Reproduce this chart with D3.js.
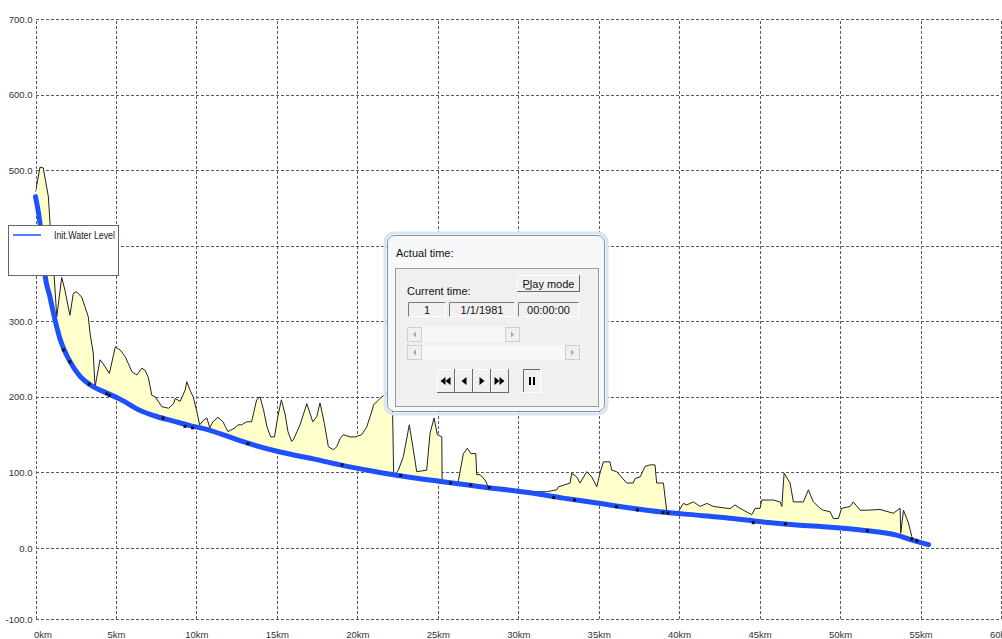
<!DOCTYPE html>
<html>
  <body style="margin:0;background:#fff;">
    <style>
      svg { display: block; font-family: 'Liberation Sans', Arial, sans-serif; }
      .grid line { stroke: #5a5a5a; stroke-dasharray: 3,2; shape-rendering: crispEdges; }
      .grid text { fill: #333; font-size: 9.5px; }
      .ui text { font-size: 11px; fill: #111; }
    </style>
    <script src="https://cdn.jsdelivr.net/npm/d3@7"></script>
    <script type="text/javascript">
      const width = 1002;
      const height = 639;
      const xTicks = [0, 5, 10, 15, 20, 25, 30, 35, 40, 45, 50, 55, 60];
      const yTicks = [-100, 0, 100, 200, 300, 400, 500, 600, 700];

      const waterKm = [0, 0.28, 0.59, 0.9, 1.21, 1.52, 1.83, 2.14, 2.77, 3.39, 4.43, 5.25, 6.5, 7.53, 8.56, 9.6, 10.64, 11.5, 13.15,
        15.2, 17.25, 19.36, 21.4, 23.46, 25.2, 27, 28.25, 29.5, 30.73, 32.8, 34.9, 36.95, 39, 41.1, 43.16, 45.2, 47.3, 49.4, 51.4, 53.5, 54.5, 55.5];
      const waterLevel = [465, 430, 361, 332, 302, 277, 260, 247, 227, 216, 205, 197, 182, 174, 168, 162, 157, 151, 139,
        127, 118, 108, 100, 93, 88, 83, 79.5, 76.5, 73, 66, 59.5, 53, 47.5, 43.5, 39.5, 34.5, 30.5, 27.5, 23.5, 17, 10.5, 4.5];

      const bankKm = [0, 0.17, 0.28, 0.48, 0.8, 0.9, 1.1, 1.32, 1.63, 1.83, 2.14, 2.35, 2.56, 2.87, 3.08, 3.28, 3.39, 3.59, 3.7,
        4.01, 4.2, 4.59, 4.96, 5.27, 5.58, 6.0, 6.3, 6.61, 6.82, 7.02, 7.23, 7.44, 7.85, 8.06, 8.27, 8.58, 8.68, 8.99, 9.3, 9.4, 9.6, 9.8, 10.0,
        10.2, 10.44, 10.65, 10.83, 11.03, 11.34, 11.65, 11.96, 12.4, 12.58, 12.81, 13.12, 13.43, 13.74, 13.95, 14.17, 14.39, 14.62, 14.85, 15.06,
        15.28, 15.52, 15.69, 15.92, 16.02, 16.25, 16.44, 16.86, 17.23, 17.48, 17.68, 17.95, 18.2, 18.51, 18.72, 18.93, 19.13, 19.54, 19.86, 20.27,
        20.58, 20.96, 21.0, 21.41, 21.83, 22.17, 22.26, 22.55, 22.86, 23.23, 23.48, 23.69, 24.31, 24.52, 24.77, 24.97, 25.25, 25.27, 26.2,
        26.59, 26.84, 27.05, 27.36, 27.42, 27.63, 27.94, 28.14, 30.73, 31.77, 32.39, 32.5, 32.8, 33.22, 33.32, 33.64, 33.84, 34.26, 34.57,
        34.88, 35.08, 35.29, 35.7, 35.81, 36.12, 36.74, 37.15, 37.26, 37.57, 37.88, 38.19, 38.5, 38.6, 39.02, 39.23, 39.95, 40.26, 40.47,
        40.88, 41.3, 41.72, 42.13, 43.16, 43.47, 43.78, 44.51, 44.72, 45.03, 45.13, 45.85, 46.27, 46.38, 46.52, 46.89, 47.1, 47.72, 48.03,
        48.34, 48.76, 48.96, 49.38, 49.58, 49.89, 50.1, 50.62, 50.82, 51.24, 51.66, 52.48, 53.31, 53.73, 53.77, 53.94, 54.25, 54.46, 54.6];
      const bankLevel = [471, 491, 504, 503, 465, 430, 380, 306, 358, 341, 308, 337, 339, 332, 319, 306, 284, 258, 213,
        249, 244, 231, 266, 262, 253, 233, 229, 238, 235, 225, 202, 200, 187, 186, 185, 191, 198, 194, 209, 220, 209, 200, 183,
        163, 169, 172, 159, 167, 173, 167, 154, 159, 163, 163, 167, 167, 196, 200, 183, 160, 147, 147, 174,
        196, 176, 154, 141, 143, 154, 163, 191, 167, 174, 192, 165, 134, 130, 134, 145, 150, 147, 147, 150,
        160, 185, 189, 198, 205, 206, 95, 103, 121, 163, 130, 101, 103, 152, 172, 150, 147, 85, 80,
        125, 132, 125, 125, 97, 97, 90, 81, 74.5, 74.5, 77, 81, 83, 86, 99, 94, 86, 101, 94,
        81, 99, 114, 114, 103, 101, 86, 86, 92, 94, 108, 110, 110, 86, 86, 48, 48, 59, 57,
        61, 55, 59, 55, 52, 57, 52.5, 44, 52.5, 52.5, 63.5, 63.5, 61, 55, 99, 86, 61, 61, 77,
        61, 52.5, 50, 48, 39, 39, 52.5, 55, 61, 50, 50, 51, 46, 52.5, 19.5, 50, 33, 15, 9];

      const pointKm = [1.73, 2.14, 3.34, 4.43, 4.59, 7.92, 9.29, 9.76, 13.2, 19.05, 22.7, 25.8, 27.05, 28.2, 32.2, 33.5, 36.1, 37.4,
        39.0, 39.3, 44.6, 46.6, 51.7, 54.45, 54.77];
      const pointLevel = [262, 246.5, 217, 204, 202, 172, 161, 159, 138, 110, 96, 86, 83.4, 80, 66.6, 63.5, 54.6, 50.3,
        46.7, 46.3, 33.5, 31.8, 22.9, 11.9, 9.7];

      const water = waterKm.map((k, i) => ({ km: k, v: waterLevel[i] }));
      const bank = bankKm.map((k, i) => ({ km: k, v: bankLevel[i] }));
      const points = pointKm.map((k, i) => ({ km: k, v: pointLevel[i] }));

      const scaleX = d3.scaleLinear().domain([0, 60]).range([35.5, 1001]);
      const scaleY = d3.scaleLinear().domain([-100, 0, 700]).range([619, 548, 19]);

      const svg = d3.select('body').append('svg')
        .attr('width', width)
        .attr('height', height);

      const axisLeft = d3.axisLeft(scaleY)
        .tickValues(yTicks)
        .tickSize(-(scaleX(60) - scaleX(0)))
        .tickPadding(3)
        .tickFormat((d) => d.toFixed(1));
      svg.append('g')
        .attr('class', 'grid')
        .attr('transform', `translate(${scaleX(0)}, 0)`)
        .call(axisLeft)
        .call((g) => g.select('.domain').remove());

      const axisBottom = d3.axisBottom(scaleX)
        .tickValues(xTicks)
        .tickSize(-(scaleY(-100) - scaleY(700)))
        .tickPadding(12)
        .tickFormat((d) => d + 'km');
      svg.append('g')
        .attr('class', 'grid')
        .attr('transform', `translate(0, ${scaleY(-100)})`)
        .call(axisBottom)
        .call((g) => g.select('.domain').remove())
        .call((g) => g.selectAll('.tick text').filter((d) => d === 0).attr('text-anchor', 'start').attr('x', -2));

      const aboveWater = d3.area()
        .x((d) => scaleX(d.km))
        .y0(0)
        .y1((d) => scaleY(d.v))
        .curve(d3.curveMonotoneX);
      svg.append('clipPath')
        .attr('id', 'above')
        .append('path')
        .attr('d', aboveWater(water));

      const bankArea = d3.area()
        .x((d) => scaleX(d.km))
        .y0(scaleY(-100))
        .y1((d) => scaleY(d.v));
      const bankLine = d3.line()
        .x((d) => scaleX(d.km))
        .y((d) => scaleY(d.v));
      const bankG = svg.append('g').attr('clip-path', 'url(#above)');
      bankG.append('path')
        .attr('d', bankArea(bank))
        .attr('fill', '#ffffcc');
      bankG.append('path')
        .attr('d', bankLine(bank))
        .attr('fill', 'none')
        .attr('stroke', '#222')
        .attr('stroke-width', 1);

      const waterLine = d3.line()
        .x((d) => scaleX(d.km))
        .y((d) => scaleY(d.v))
        .curve(d3.curveMonotoneX);
      svg.append('path')
        .attr('d', waterLine(water))
        .attr('fill', 'none')
        .attr('stroke', '#1e50ff')
        .attr('stroke-width', 5)
        .attr('stroke-linecap', 'round');

      svg.selectAll('rect.pt')
        .data(points)
        .enter()
        .append('rect')
        .attr('class', 'pt')
        .attr('x', (d) => scaleX(d.km) - 1.5)
        .attr('y', (d) => scaleY(d.v) - 1.5)
        .attr('width', 3)
        .attr('height', 3)
        .attr('fill', '#111');

      // legend
      const legend = svg.append('g');
      legend.append('rect')
        .attr('x', 8.5).attr('y', 225.5).attr('width', 110).attr('height', 50)
        .attr('fill', '#fff').attr('stroke', '#666');
      legend.append('line')
        .attr('x1', 13).attr('x2', 41).attr('y1', 235).attr('y2', 235)
        .attr('stroke', '#1e50ff').attr('stroke-width', 1.5);
      legend.append('text')
        .attr('x', 54).attr('y', 235).attr('dy', '0.35em')
        .attr('textLength', 61).attr('lengthAdjust', 'spacingAndGlyphs')
        .attr('font-size', 10).attr('fill', '#222')
        .text('Init.Water Level');

      // time dialog
      const ui = svg.append('g').attr('class', 'ui');
      ui.append('rect')
        .attr('x', 385).attr('y', 233).attr('width', 222).attr('height', 181).attr('rx', 9)
        .attr('fill', 'none').attr('stroke', '#d6e6f5').attr('stroke-width', 3);
      ui.append('rect')
        .attr('x', 387.5).attr('y', 235.5).attr('width', 217).attr('height', 176).attr('rx', 7)
        .attr('fill', '#f7f8f9').attr('stroke', '#8c9096');
      ui.append('text').attr('x', 396).attr('y', 257).text('Actual time:').attr('font-size', 11.5);
      ui.append('rect')
        .attr('x', 395.5).attr('y', 268.5).attr('width', 203).attr('height', 138)
        .attr('fill', '#f0f0f0').attr('stroke', '#9a9a9a');

      function button(x, y, w, h, pressed) {
        const g = ui.append('g');
        g.append('rect').attr('x', x + 0.5).attr('y', y + 0.5).attr('width', w - 1).attr('height', h - 1)
          .attr('fill', '#f0f0f0').attr('stroke', pressed ? '#fff' : '#696969');
        g.append('path')
          .attr('d', `M${x + 0.5},${y + h - 1}V${y + 0.5}H${x + w - 1}`)
          .attr('fill', 'none').attr('stroke', pressed ? '#696969' : '#fff');
        return g;
      }

      const play = button(517, 275, 63, 17, false);
      play.append('text').attr('x', 548.5).attr('y', 287.5).attr('text-anchor', 'middle').text('Play mode');
      play.append('line').attr('x1', 525.5).attr('x2', 531.5).attr('y1', 289).attr('y2', 289).attr('stroke', '#111');

      ui.append('text').attr('x', 407).attr('y', 295).text('Current time:');

      const fields = [[408, 38, '1'], [449, 66, '1/1/1981'], [518, 61, '00:00:00']];
      fields.forEach(([fx, fw, label]) => {
        ui.append('rect').attr('x', fx + 0.5).attr('y', 302.5).attr('width', fw - 1).attr('height', 14)
          .attr('fill', '#f0f0f0').attr('stroke', '#fff');
        ui.append('path').attr('d', `M${fx + 0.5},${316.5}V302.5H${fx + fw - 0.5}`)
          .attr('fill', 'none').attr('stroke', '#7a7a7a');
        ui.append('text').attr('x', fx + fw / 2).attr('y', 313.5).attr('text-anchor', 'middle').text(label);
      });

      function scrollbar(x, y, w) {
        ui.append('rect').attr('x', x).attr('y', y).attr('width', w).attr('height', 15).attr('fill', '#f7f7f7');
        [x, x + w - 15].forEach((bx, i) => {
          ui.append('rect').attr('x', bx + 0.5).attr('y', y + 0.5).attr('width', 14).attr('height', 14)
            .attr('fill', '#f0f0f0').attr('stroke', '#cfcfcf');
          const cx = bx + 7.5, cy = y + 7.5;
          ui.append('path')
            .attr('d', i === 0 ? `M${cx + 1.5},${cy - 3}L${cx - 1.5},${cy}L${cx + 1.5},${cy + 3}Z` : `M${cx - 1.5},${cy - 3}L${cx + 1.5},${cy}L${cx - 1.5},${cy + 3}Z`)
            .attr('fill', '#a8a8a8');
        });
      }
      scrollbar(407, 327, 113);
      scrollbar(407, 345, 173);

      const tri = (cx, cy, dir) => `M${cx - 2.5 * dir},${cy - 4}L${cx + 2.5 * dir},${cy}L${cx - 2.5 * dir},${cy + 4}Z`;
      const navIcons = [
        [tri(443, 381, -1), tri(448, 381, -1)],
        [tri(464, 381, -1)],
        [tri(482, 381, 1)],
        [tri(497, 381, 1), tri(502, 381, 1)],
      ];
      navIcons.forEach((icons, i) => {
        const b = button(437 + i * 18, 369, 18, 24, false);
        icons.forEach((p) => b.append('path').attr('d', p).attr('fill', '#000'));
      });
      const pause = button(523, 369, 18, 24, true);
      pause.append('rect').attr('x', 529).attr('y', 377).attr('width', 2).attr('height', 8).attr('fill', '#000');
      pause.append('rect').attr('x', 533).attr('y', 377).attr('width', 2).attr('height', 8).attr('fill', '#000');
    </script>
  </body>
</html>
